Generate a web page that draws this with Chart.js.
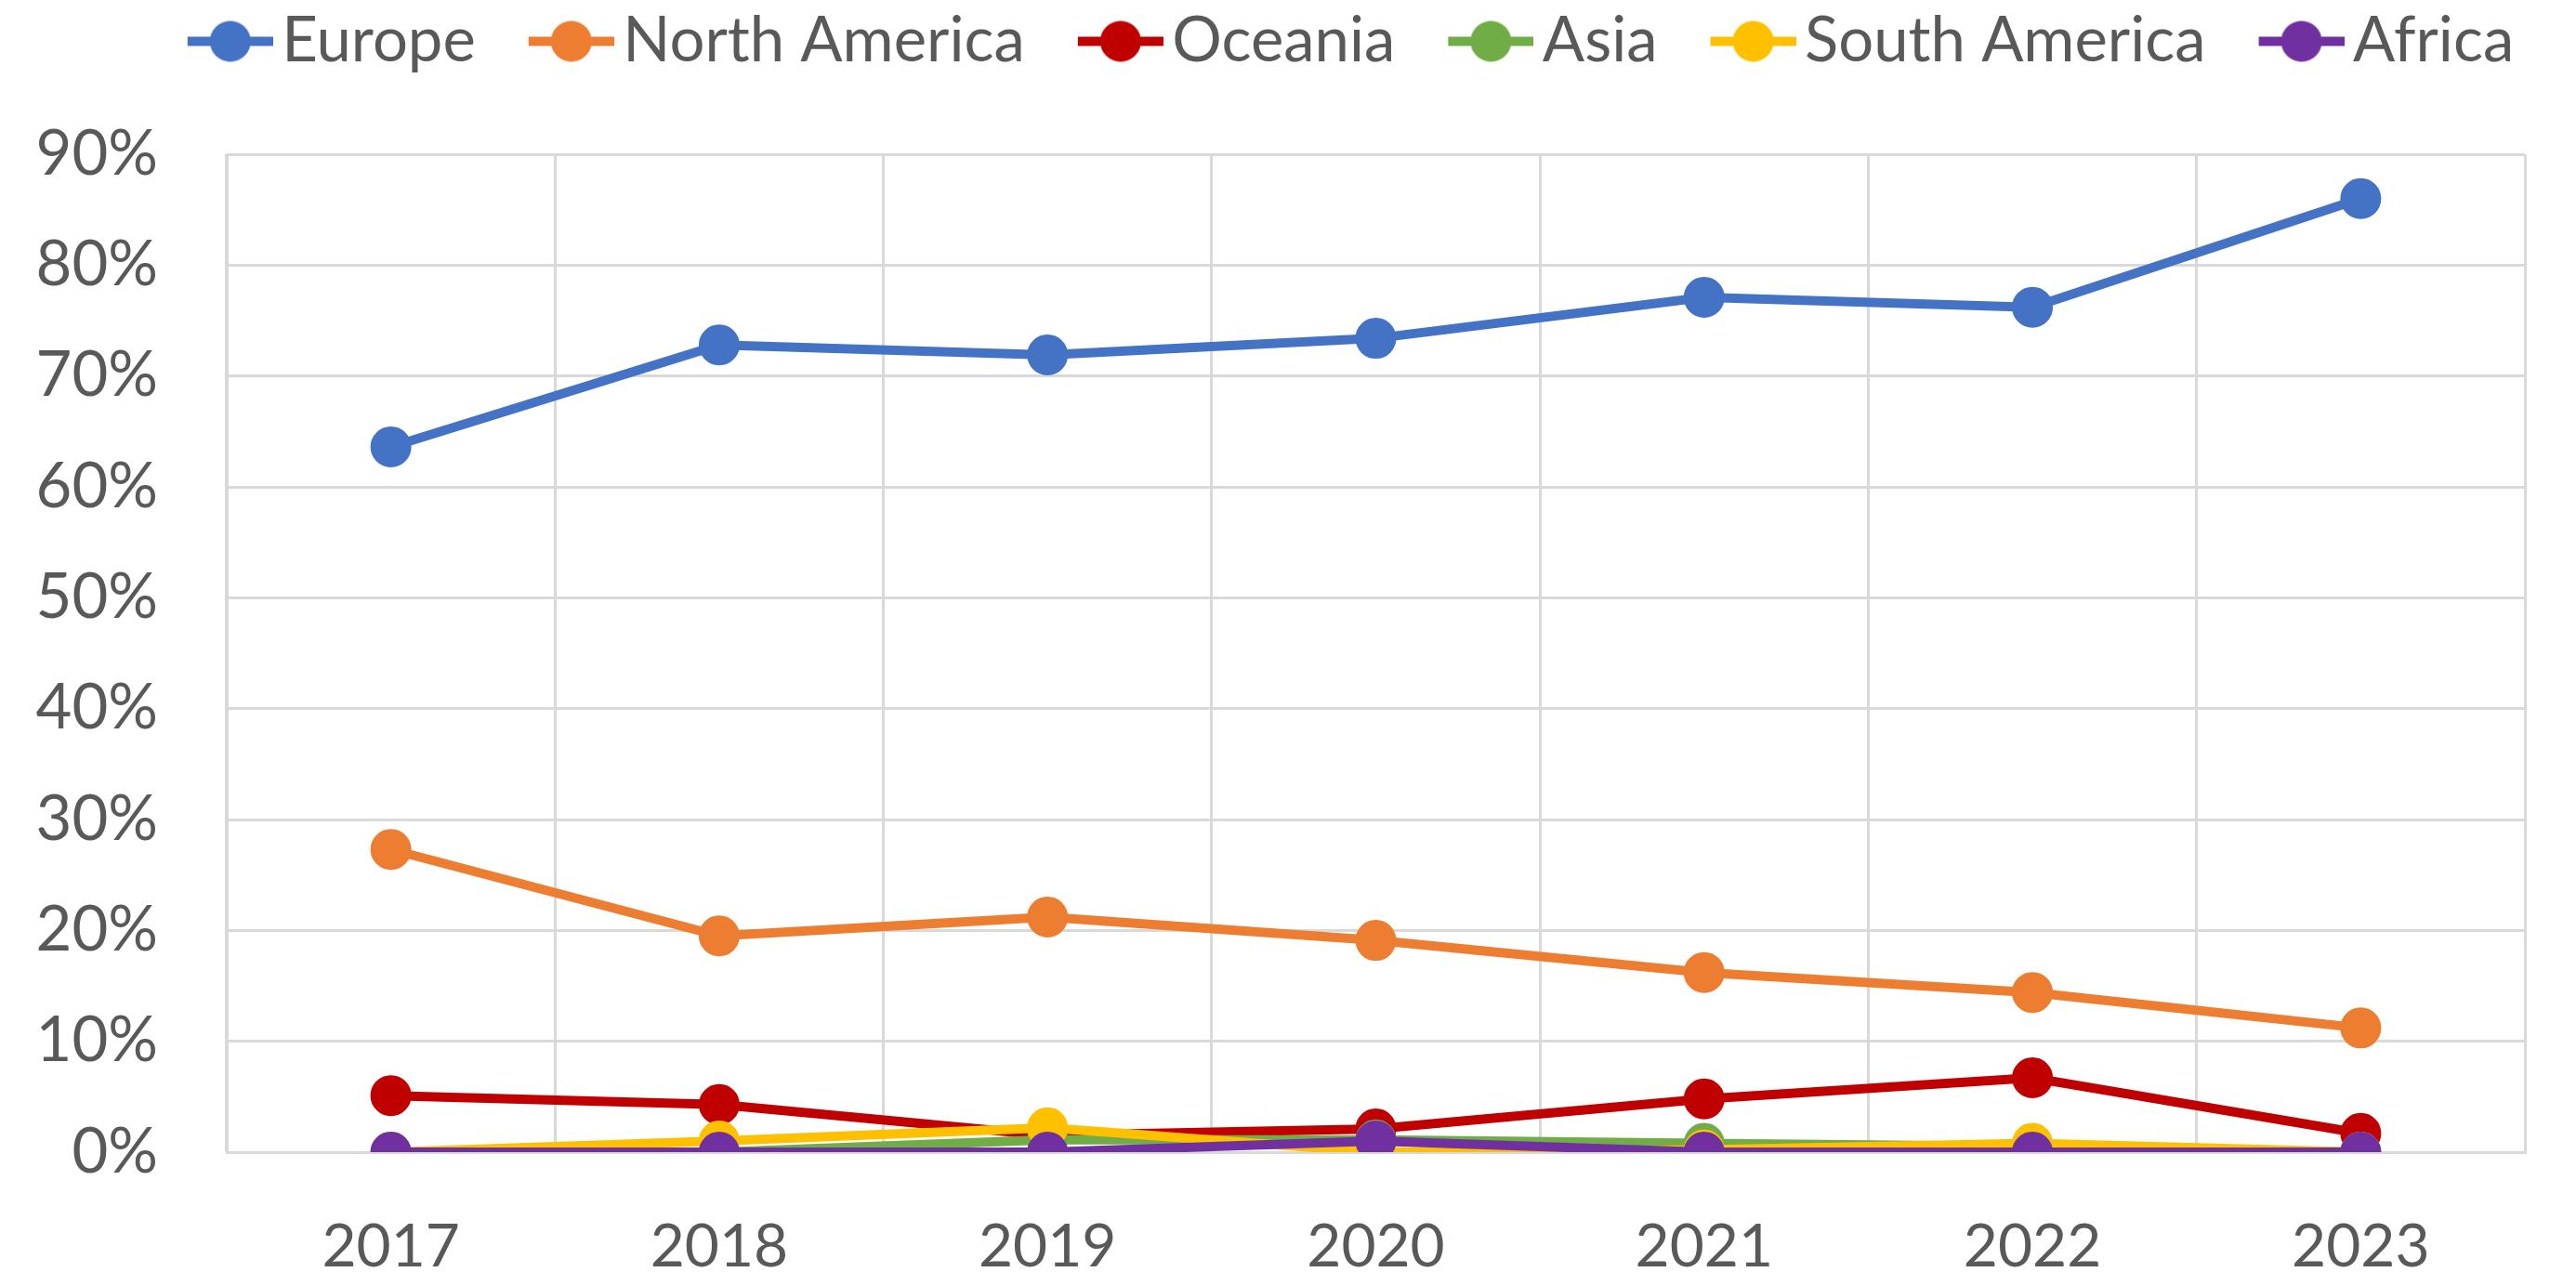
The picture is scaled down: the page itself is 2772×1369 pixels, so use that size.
<!DOCTYPE html>
<html>
<head>
<meta charset="utf-8">
<script src="https://cdn.jsdelivr.net/npm/chart.js@4"></script>
<style>
    html, body { margin: 0; padding: 0; background: #fff; }
    #wrap { width: 2772px; height: 1369px; }
</style>
</head>
<body>
<div id="wrap"><canvas id="chart" width="2772" height="1369"></canvas></div>
<script>
const years = ["2017", "2018", "2019", "2020", "2021", "2022", "2023"];
const europe = [63.6, 72.8, 71.9, 73.4, 77.1, 76.2, 86.0];
const northAmerica = [27.3, 19.5, 21.2, 19.1, 16.2, 14.4, 11.2];
const oceania = [5.1, 4.3, 1.5, 2.1, 4.8, 6.7, 1.7];
const asia = [0, 0, 1.1, 1.1, 0.8, 0.5, 0];
const southAmerica = [0, 1.0, 2.2, 0, 0.2, 0.8, 0];
const africa = [0, 0, 0, 1.0, 0, 0, 0];

const seriesNames = ["Europe", "North America", "Oceania", "Asia", "South America", "Africa"];
const seriesData = [europe, northAmerica, oceania, asia, southAmerica, africa];
const seriesColors = ["#4472C4", "#ED7D31", "#C00000", "#70AD47", "#FFC000", "#7030A0"];

const FONT = "Lato, 'Open Sans', sans-serif";
const TEXT = "#595959";

// legend marker: line with a dot, drawn at the right side of a wider canvas
function legendMarker(color) {
    const c = document.createElement("canvas");
    c.width = 162;
    c.height = 48;
    const g = c.getContext("2d");
    g.strokeStyle = color;
    g.lineWidth = 10;
    g.beginPath();
    g.moveTo(70, 24);
    g.lineTo(162, 24);
    g.stroke();
    g.fillStyle = color;
    g.beginPath();
    g.arc(116, 24, 22, 0, Math.PI * 2);
    g.fill();
    return c;
}
const markers = seriesColors.map(legendMarker);

// legend taller than its text, and nudged right like the original
const legendBox = {
    id: "legendBox",
    beforeInit(chart) {
        const fit = chart.legend.fit;
        chart.legend.fit = function () {
            fit.call(this);
            this.height = 166;
        };
    },
    afterLayout(chart) {
        chart.legend.left += 72;
        chart.legend.right += 72;
    }
};

const datasets = seriesNames.map((name, i) => ({
    label: name,
    data: seriesData[i],
    borderColor: seriesColors[i],
    backgroundColor: seriesColors[i],
    borderWidth: 10,
    pointRadius: 21,
    pointBorderWidth: 2,
    pointBackgroundColor: seriesColors[i],
    pointBorderColor: seriesColors[i],
    tension: 0,
    order: seriesNames.length - 1 - i
}));

new Chart(document.getElementById("chart"), {
    type: "line",
    data: { labels: years, datasets: datasets },
    plugins: [legendBox],
    options: {
        responsive: false,
        animation: false,
        layout: { padding: { left: 0, right: 55, top: 0, bottom: 0 } },
        plugins: {
            tooltip: { enabled: false },
            legend: {
                position: "top",
                labels: {
                    usePointStyle: true,
                    pointStyleWidth: 114,
                    padding: 11,
                    color: TEXT,
                    font: { family: FONT, size: 67 },
                    sort: (a, b) => a.datasetIndex - b.datasetIndex,
                    generateLabels(chart) {
                        const items = Chart.defaults.plugins.legend.labels.generateLabels(chart);
                        items.forEach(it => { it.pointStyle = markers[it.datasetIndex]; });
                        return items;
                    }
                }
            }
        },
        scales: {
            x: {
                offset: true,
                afterFit(s) { s.height = 129; },
                grid: { offset: true, color: "#d9d9d9", lineWidth: 3, drawTicks: false },
                border: { color: "#d9d9d9", width: 3 },
                ticks: { color: TEXT, font: { family: FONT, size: 64 }, padding: 64, maxRotation: 0 }
            },
            y: {
                min: 0,
                max: 90,
                afterFit(s) { s.width = 244; },
                grid: {
                    color: ctx => (ctx.tick && ctx.tick.value % 10 === 0) ? "#d9d9d9" : "#f2f2f2",
                    lineWidth: 3,
                    drawTicks: false
                },
                border: { color: "#d9d9d9", width: 3 },
                ticks: {
                    stepSize: 5,
                    color: TEXT,
                    font: { family: FONT, size: 67 },
                    padding: 74,
                    callback: v => (v % 10 === 0 ? v + "%" : "")
                }
            }
        }
    }
});
</script>
</body>
</html>
